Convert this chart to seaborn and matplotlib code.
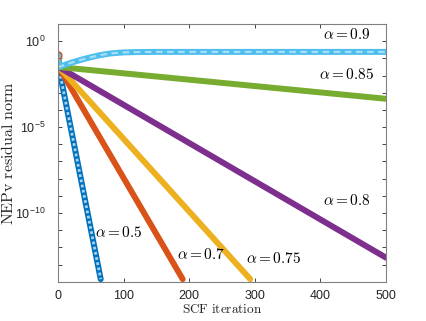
import numpy as np
import pandas as pd
import matplotlib
matplotlib.use("Agg")
import matplotlib.pyplot as plt
import matplotlib.ticker as mticker
import seaborn as sns

# ── Data (log10 of residual norm) ─────────────────────────────────────────────
ALPHAS = ["0.5", "0.7", "0.75", "0.8", "0.85", "0.9"]

it_05 = [0, 1, 65]
lg_05 = [-0.8, -1.5, -13.85]

it_07 = [0, 1, 190]
lg_07 = [-0.8, -1.5, -13.85]

it_075 = [0, 1, 293]
lg_075 = [-0.8, -1.5, -13.85]

it_08 = [0, 1, 500]
lg_08 = [-0.8, -1.5, -12.6]

it_085 = [0, 1, 500]
lg_085 = [-0.8, -1.5, -3.35]

it_09 = [0, 1, 10, 20, 35, 50, 65, 80, 100, 120, 150, 500]
lg_09 = [-0.8, -1.5, -1.38, -1.25, -1.08, -0.93, -0.8, -0.71, -0.65, -0.63, -0.62, -0.62]

# label anchor positions (iteration, log10)
label_x = [56, 181, 328, 440, 440, 440]
label_lg = [-11.15, -12.4, -12.65, -9.3, -1.95, 0.4]
label_ha = ["left", "left", "center", "center", "center", "center"]

COLORS = ["#0072BD", "#D95319", "#EDB120", "#7E2F8E", "#77AC30", "#4DBEEE"]

series = [(it_05, lg_05), (it_07, lg_07), (it_075, lg_075),
          (it_08, lg_08), (it_085, lg_085), (it_09, lg_09)]

sns.set_style("white")
plt.rcParams["font.family"] = ["Liberation Sans", "DejaVu Sans"]
plt.rcParams["mathtext.fontset"] = "custom"
plt.rcParams["mathtext.rm"] = "Liberation Sans"
plt.rcParams["mathtext.it"] = "Liberation Sans:italic"

fig = plt.figure(figsize=(4.27, 3.21), dpi=100)
ax = fig.add_axes([0.136, 0.1224, 0.768, 0.8026])

for (its, lgs), a, c in zip(series, ALPHAS, COLORS):
    df = pd.DataFrame({"iter": its, "res": [10.0 ** v for v in lgs]})
    sns.lineplot(data=df, x="iter", y="res", ax=ax, color=c, linewidth=4.3,
                 solid_capstyle="round", legend=False)
    # open-circle marker texture on the two marker series
    if a == "0.5":
        ax.plot(df["iter"], df["res"], color="#a9d2ef", linewidth=2.0,
                linestyle=(0, (1, 0.9)))
    if a == "0.9":
        ax.plot(df["iter"], df["res"], color="#a6def5", linewidth=1.6,
                linestyle=(0, (3, 2)))

# starting marker
ax.plot([0], [10 ** -0.8], marker="o", ms=5, mfc="none", mec="#D95319", mew=1.0)

for a, x, lg, ha in zip(ALPHAS, label_x, label_lg, label_ha):
    ax.text(x, 10 ** lg, rf"$\alpha = {a}$", math_fontfamily="cm",
            fontsize=11, ha=ha, va="center", color="black")

ax.set_yscale("log")
ax.set_xlim(0, 500)
ax.set_ylim(1e-14, 1e1)
ax.xaxis.set_major_locator(mticker.MultipleLocator(100))
ax.yaxis.set_major_locator(mticker.FixedLocator([10.0 ** k for k in range(-14, 2)]))
ax.yaxis.set_minor_locator(mticker.NullLocator())


def ylab(v, pos):
    k = int(round(np.log10(v)))
    return rf"$10^{{{k}}}$" if k % 5 == 0 else ""


ax.yaxis.set_major_formatter(mticker.FuncFormatter(ylab))
ax.tick_params(direction="in", length=3, width=0.6, colors="#262626",
               labelsize=9, top=True, right=True, left=True, bottom=True)
ax.tick_params(axis="x", pad=6)
ax.tick_params(axis="y", pad=9)
for s in ax.spines.values():
    s.set_color("#808080")
    s.set_linewidth(0.8)

ax.set_xlabel(r"$\mathrm{SCF\ iteration}$", math_fontfamily="cm", fontsize=9.5, labelpad=1)
ax.set_ylabel(r"$\mathrm{NEPv\ residual\ norm}$", math_fontfamily="cm", fontsize=11.5)
ax.yaxis.set_label_coords(-0.128, 0.5)

plt.savefig("out.png", dpi=100)
plt.close()
